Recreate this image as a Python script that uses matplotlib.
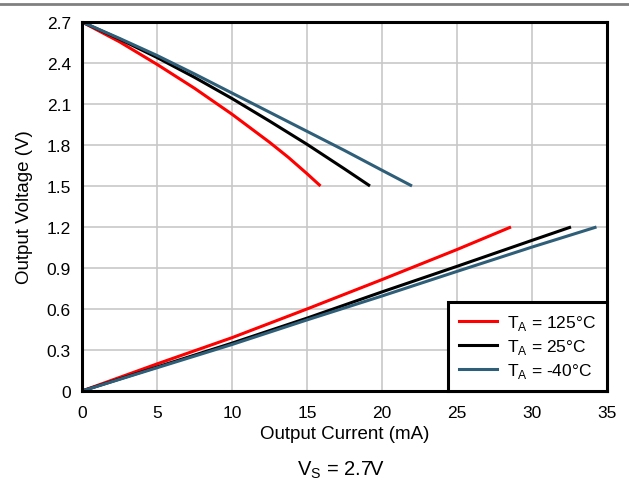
import matplotlib
matplotlib.use("Agg")
import matplotlib.pyplot as plt
from matplotlib.lines import Line2D

plt.rcParams['font.family'] = ['Liberation Sans', 'DejaVu Sans']
plt.rcParams['mathtext.fontset'] = 'custom'
plt.rcParams['mathtext.rm'] = 'Liberation Sans'

# Upper (sourcing) curves: current (mA), voltage (V)
hi_125_i = [0, 2.5, 5, 7.5, 10, 12.5, 13.75, 15, 15.9]
hi_125_v = [2.7, 2.555, 2.39, 2.215, 2.025, 1.82, 1.71, 1.59, 1.50]
hi_25_i = [0, 2.5, 5, 7.5, 10, 12.5, 15, 17.5, 19.2]
hi_25_v = [2.7, 2.575, 2.44, 2.295, 2.14, 1.975, 1.805, 1.625, 1.50]
hi_m40_i = [0, 2.5, 5, 7.5, 10, 12.5, 15, 17.5, 20, 22.0]
hi_m40_v = [2.7, 2.58, 2.455, 2.32, 2.18, 2.04, 1.90, 1.76, 1.615, 1.50]

# Lower (sinking) curves
lo_125_i = [0, 5, 10, 15, 20, 25, 28.6]
lo_125_v = [0, 0.198, 0.39, 0.60, 0.815, 1.035, 1.20]
lo_25_i = [0, 5, 10, 15, 20, 25, 30, 32.6]
lo_25_v = [0, 0.175, 0.35, 0.533, 0.725, 0.912, 1.102, 1.20]
lo_m40_i = [0, 5, 10, 15, 20, 25, 30, 34.3]
lo_m40_v = [0, 0.17, 0.34, 0.52, 0.695, 0.875, 1.053, 1.20]

labels = [r'T$_\mathrm{A}$ = 125°C', r'T$_\mathrm{A}$ = 25°C', r'T$_\mathrm{A}$ = -40°C']
colors = ['#ff0000', '#000000', '#2f5f78']

x_ticks = [0, 5, 10, 15, 20, 25, 30, 35]
y_ticks = [0, 0.3, 0.6, 0.9, 1.2, 1.5, 1.8, 2.1, 2.4, 2.7]
y_tick_labels = ['0', '0.3', '0.6', '0.9', '1.2', '1.5', '1.8', '2.1', '2.4', '2.7']

fig = plt.figure(figsize=(6.29, 4.85), dpi=100)
ax = fig.add_axes([0.1304, 0.1918, 0.8346, 0.7608])

series = [
    (hi_125_i, hi_125_v, lo_125_i, lo_125_v),
    (hi_25_i, hi_25_v, lo_25_i, lo_25_v),
    (hi_m40_i, hi_m40_v, lo_m40_i, lo_m40_v),
]
for (hi_i, hi_v, lo_i, lo_v), c in zip(series, colors):
    ax.plot(hi_i, hi_v, color=c, lw=2.2, solid_capstyle='butt', solid_joinstyle='round')
    ax.plot(lo_i, lo_v, color=c, lw=2.2, solid_capstyle='butt', solid_joinstyle='round')

ax.set_xlim(0, 35)
ax.set_ylim(0, 2.7)
ax.set_xticks(x_ticks)
ax.set_yticks(y_ticks)
ax.set_yticklabels(y_tick_labels)
ax.tick_params(axis='x', length=0, labelsize=12.5, pad=10)
ax.tick_params(axis='y', length=0, labelsize=12.5, pad=8)
ax.grid(True, color='#c8c8c8', lw=1.2)
ax.set_axisbelow(True)
for s in ax.spines.values():
    s.set_linewidth(2.2)
    s.set_color('black')

ax.set_xlabel('Output Current (mA)', fontsize=13.5, labelpad=4)
ax.set_ylabel('Output Voltage (V)', fontsize=13.5, labelpad=10)

handles = [Line2D([0], [0], color=c, lw=2.2) for c in colors]
leg = ax.legend(handles, labels, loc='lower right', borderaxespad=0,
                fontsize=12.5, frameon=True, fancybox=False, framealpha=1,
                edgecolor='black', handlelength=2.2, handletextpad=0.55,
                labelspacing=0.28, borderpad=0.65)
leg.get_frame().set_linewidth(2.2)

fig.text(0.541, 0.0186, r'V$_\mathrm{S}$ = 2.7V', fontsize=14.5, ha='center', va='baseline')
fig.add_artist(Line2D([0, 1], [0.989, 0.989], color='#808080', lw=2.0, transform=fig.transFigure))

fig.savefig('out.png', dpi=100)
